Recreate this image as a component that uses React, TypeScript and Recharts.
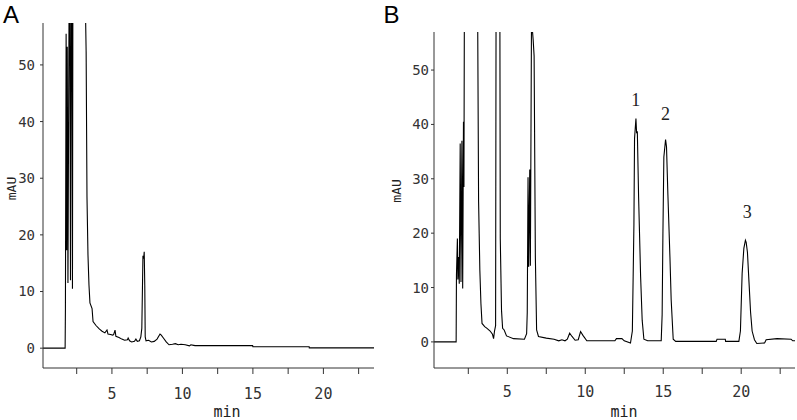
import React from 'react';
import { LineChart, Line, XAxis, YAxis, ReferenceDot } from 'recharts';

// Panel A chromatogram (time in min, absorbance in mAU)
const timeA = [
  0.11, 1.68, 1.70, 1.75, 1.79, 1.83, 1.88, 1.99, 2.06, 2.13, 2.20, 2.28, 2.6, 3.0, 3.12,
  3.17, 3.23, 3.30, 3.37, 3.44, 3.59, 3.66, 3.87, 4.1, 4.3, 4.5, 4.65, 4.72, 4.9, 5.05,
  5.12, 5.22, 5.28, 5.5, 5.7, 5.9, 6.1, 6.15, 6.25, 6.4, 6.6, 6.7, 6.8, 6.95, 7.05,
  7.12, 7.2, 7.25, 7.29, 7.33, 7.36, 7.42, 7.6, 7.8, 8.0, 8.2, 8.41, 8.5, 8.65, 8.85,
  9.05, 9.3, 9.5, 9.7, 9.9, 10.2, 10.5, 10.6, 10.8, 10.9, 14.98, 15.0, 18.99, 19.0, 23.59,
];
const signalA = [
  0, 0, 6.8, 55.5, 17.3, 53.2, 11.5, 80, 12, 90, 10.5, 150, 300, 150, 60,
  52.3, 26.7, 16.5, 11.2, 8, 7, 4.7, 4.0, 3.4, 3.0, 2.7, 3.2, 2.5, 2.4, 2.3,
  2.4, 3.2, 2.1, 1.9, 1.6, 1.4, 1.5, 1.8, 1.3, 1.1, 1.2, 1.6, 1.2, 1.3, 2.0,
  3.5, 16.3, 15.8, 17.0, 11.0, 2.0, 1.3, 1.4, 1.1, 1.2, 1.6, 2.5, 2.3, 1.8, 1.1,
  0.6, 0.7, 0.8, 0.6, 0.7, 0.6, 0.4, 0.6, 0.5, 0.45, 0.45, 0.25, 0.25, 0.05, 0.05,
];

// Panel B chromatogram
const timeB = [
  0.3, 1.72, 1.74, 1.8, 1.83, 1.88, 1.92, 1.98, 2.03, 2.09, 2.14, 2.19, 2.22, 2.28, 2.6,
  3.0, 3.1, 3.16, 3.24, 3.31, 3.38, 3.55, 3.7, 3.9, 4.05, 4.12, 4.18, 4.25, 4.3, 4.5,
  4.55, 4.63, 4.7, 4.8, 4.95, 5.4, 6.1, 6.24, 6.28, 6.33, 6.37, 6.44, 6.48, 6.55, 6.62,
  6.66, 6.72, 6.8, 6.88, 7.0, 7.5, 8.0, 8.3, 8.5, 8.7, 8.85, 9.0, 9.15, 9.35, 9.55,
  9.7, 9.85, 10.1, 11.9, 12.0, 12.35, 12.5, 12.9, 13.02, 13.12, 13.16, 13.25, 13.29, 13.34, 13.42,
  13.55, 13.65, 13.76, 14.0, 14.87, 14.93, 14.98, 15.04, 15.15, 15.21, 15.3, 15.43, 15.51, 15.64, 15.8,
  18.4, 18.45, 18.98, 19.0, 19.85, 19.95, 20.06, 20.17, 20.27, 20.32, 20.4, 20.5, 20.6, 20.7, 20.85,
  21.0, 21.5, 21.6, 22.3, 23.2, 23.3, 23.45,
];
const signalB = [
  0, 0, 12.3, 19.0, 11.5, 15.6, 10.7, 36.5, 11, 37, 9.8, 40.5, 28.5, 100, 300,
  100, 60, 25.8, 13.2, 7, 3.4, 2.8, 2.5, 2.0, 1.4, 0.6, 2.0, 3.0, 100, 100,
  19, 5.8, 2.5, 2.2, 1.1, 0.6, 0.5, 1.5, 5.4, 30.3, 13.8, 31.7, 14, 57.8, 57,
  55.5, 52.6, 15.6, 2.2, 1.0, 0.7, 0.5, 0.2, 0.4, 0.2, 0.5, 1.6, 1.0, 0.3, 0.4,
  1.9, 1.2, 0.2, 0.2, 0.6, 0.6, 0.2, -0.2, 2, 21.5, 37.4, 41.1, 38.5, 38.6, 26.7,
  12, 4, 0.5, 0.2, 0.2, 5, 20, 34, 37.2, 35.9, 27, 15.6, 7.7, 0.5, 0.1,
  0.1, 0.5, 0.5, 0.1, 0.1, 2, 12.6, 17.2, 18.7, 18.3, 16.5, 11, 5.5, 2, 0.4,
  -0.3, -0.2, 0.4, 0.6, 0.5, 0.2, 0.2,
];

const xTicks = [2.5, 5, 7.5, 10, 12.5, 15, 17.5, 20, 22.5];
const yTicks = [0, 10, 20, 30, 40, 50];
const peakNames = ['1', '2', '3'];
const peakTimes = [13.23, 15.15, 20.38];
const peakLabelHeights = [44.5, 42.0, 24.0];
const panelNames = ['A', 'B'];
const xTitle = 'min';
const yTitle = 'mAU';

const rowsA = timeA.map((t, i) => ({ t, v: signalA[i] }));
const rowsB = timeB.map((t, i) => ({ t, v: signalB[i] }));

const MONO = '"DejaVu Sans Mono", "Liberation Mono", monospace';
const AXIS = '#333';

const xFmt = (v: number) => (v % 5 === 0 ? String(v) : '');

function XTitle(props: any) {
  const { viewBox, shift } = props;
  return (
    <text x={viewBox.x + viewBox.width / 2 + shift} y={viewBox.y + 49} textAnchor="middle"
      fontFamily={MONO} fontSize={15} fill="#222">{xTitle}</text>
  );
}

function YTitle(props: any) {
  const { viewBox, sx, sy } = props;
  const cx = viewBox.x + sx;
  const cy = viewBox.y + viewBox.height / 2 + sy;
  return (
    <text x={cx} y={cy} textAnchor="middle" dominantBaseline="central"
      transform={`rotate(-90 ${cx} ${cy})`} fontFamily={MONO} fontSize={13} fill="#222">{yTitle}</text>
  );
}

function Panel(props: any) {
  const { rows, width, margin, xDomain, yDomain, tickMarginX, tickMarginY, xShift, ysx, ysy, peaks } = props;
  return (
    <LineChart width={width} height={420} data={rows} margin={margin}>
      <XAxis type="number" dataKey="t" domain={xDomain} allowDataOverflow ticks={xTicks} interval={0}
        tickFormatter={xFmt} tickSize={6} tickMargin={tickMarginX} height={30}
        axisLine={{ stroke: AXIS }} tickLine={{ stroke: AXIS }}
        tick={{ fontFamily: MONO, fontSize: 15, fill: '#333' }}
        label={{ content: (p: any) => <XTitle {...p} shift={xShift} /> }} />
      <YAxis type="number" domain={yDomain} allowDataOverflow ticks={yTicks} interval={0}
        tickSize={3} tickMargin={tickMarginY} width={30}
        axisLine={{ stroke: AXIS }} tickLine={{ stroke: AXIS }}
        tick={{ fontFamily: MONO, fontSize: 14, fill: '#333' }}
        label={{ content: (p: any) => <YTitle {...p} sx={ysx} sy={ysy} /> }} />
      <Line type="linear" dataKey="v" stroke="#000" strokeWidth={1.1} dot={false}
        isAnimationActive={false} />
      {peaks && peakNames.map((n, i) => (
        <ReferenceDot key={n} x={peakTimes[i]} y={peakLabelHeights[i]} r={0} fill="none" stroke="none"
          label={{ value: n, position: 'center', fill: '#222', fontSize: 18, fontFamily: '"Liberation Serif", serif' }} />
      ))}
    </LineChart>
  );
}

export default function App() {
  return (
    <div style={{ position: 'absolute', left: 0, top: 0, width: 797, height: 420, background: '#fff', overflow: 'hidden' }}>
      <div style={{ position: 'absolute', left: 0, top: 0 }}>
        <Panel rows={rowsA} width={400} margin={{ top: 23, right: 26, left: 13, bottom: 22 }}
          xDomain={[0.11, 23.59]} yDomain={[-3.5, 57.4]} tickMarginX={14} tickMarginY={5}
          xShift={18.5} ysx={-2} ysy={-7} peaks={false} />
      </div>
      <div style={{ position: 'absolute', left: 377, top: 0 }}>
        <Panel rows={rowsB} width={420} margin={{ top: 32, right: 2, left: 27, bottom: 22 }}
          xDomain={[0.3, 23.45]} yDomain={[-4.8, 57]} tickMarginX={12} tickMarginY={2}
          xShift={9.5} ysx={-7.5} ysy={-9} peaks={true} />
      </div>
      <svg width={797} height={420} style={{ position: 'absolute', left: 0, top: 0, pointerEvents: 'none' }}>
        <text x={3} y={22.5} fontFamily='"Liberation Sans", Arial, sans-serif' fontSize={24} fill="#000">{panelNames[0]}</text>
        <text x={383.5} y={22.5} fontFamily='"Liberation Sans", Arial, sans-serif' fontSize={24} fill="#000">{panelNames[1]}</text>
      </svg>
    </div>
  );
}
